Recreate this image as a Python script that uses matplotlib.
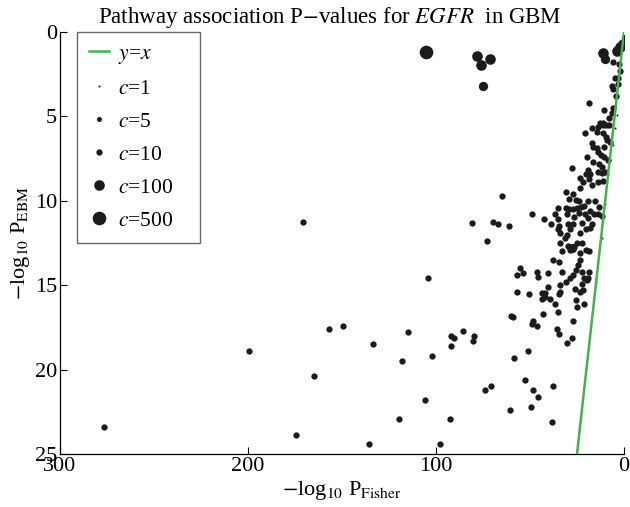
import numpy as np
import matplotlib
matplotlib.use("Agg")
import matplotlib.pyplot as plt
from matplotlib.lines import Line2D

plt.rcParams['font.family'] = ['Liberation Serif', 'DejaVu Serif']
plt.rcParams['mathtext.fontset'] = 'stix'

# Points grouped by gene-set count c: x = -log10 P_Fisher, y = -log10 P_EBM
fisher_c500 = [105.3]
ebm_c500 = [1.17]

fisher_c100 = [78.4, 71.3, 76.0, 11.0, 3.9, 2.1, 0.4]
ebm_c100 = [1.4, 1.57, 1.95, 1.27, 1.1, 0.9, 0.7]

fisher_c50 = [75.2, 9.9, 27.8]
ebm_c50 = [3.2, 1.57, 12.8]

fisher_c10 = [5.7, 2.5, 2.1, 3.0, 4.8, 3.0, 6.5, 6.0, 4.3, 18.5, 10.6, 5.7, 6.5, 7.8, 11.0, 12.8,
              17.2, 13.7, 11.3, 9.6, 7.8, 20.7, 14.5, 11.0, 9.6, 9.2, 17.2, 16.3, 14.5, 13.7, 10.6, 7.4,
              12.4, 10.6, 19.5, 16.6, 13.1, 11.9, 8.3, 27.8, 19.0, 20.2, 18.1, 13.7, 11.9, 10.1,
              23.4, 21.6, 18.5, 17.2, 13.7, 11.3, 23.4, 30.9, 27.3, 29.1, 25.5, 23.8, 19.0, 15.4, 13.1,
              35.0, 36.7, 30.9, 29.1, 27.0, 25.2, 23.0, 21.3, 30.5, 26.5, 23.8, 21.0, 18.3, 16.2, 13.7, 11.9,
              42.5, 48.7, 64.7, 80.7, 69.5, 67.2, 61.0, 72.9, 170.7,
              39.0, 35.0, 34.4, 29.6, 27.0, 22.5, 19.0, 17.2, 35.0, 34.0, 28.7, 30.5, 31.4, 23.4, 20.2, 18.1,
              34.0, 29.6, 26.6, 28.7, 25.2, 22.5, 33.1, 23.4, 20.2, 18.5, 37.6, 34.4, 23.4, 24.3, 25.5,
              33.1, 46.4, 40.3, 55.3, 53.6, 56.7, 27.0, 28.7, 22.5, 21.3, 18.5, 19.0, 45.6, 40.3, 34.0, 30.9,
              34.0, 26.1, 22.5, 21.6, 19.5, 56.7, 50.5, 43.5, 41.8, 43.8, 42.0, 39.4, 34.5, 36.7, 25.5, 25.2,
              21.3, 23.2, 60.3, 58.9, 42.9, 35.3, 48.6, 49.1, 46.4, 27.0, 35.5, 34.4, 30.5, 27.7, 79.8, 80.5,
              51.0, 58.5, 52.9, 73.8, 71.0, 48.6, 37.9, 45.6, 60.6, 49.5, 38.5, 92.6, 97.9, 104.1, 85.5, 92.2,
              90.4, 92.0, 102.0, 106.0,
              276.4, 199.3, 174.5, 164.9, 156.7, 149.6, 135.5, 133.3, 118.3, 119.7, 115.0]
ebm_c10 = [1.77, 1.9, 2.3, 2.7, 2.7, 3.1, 3.2, 3.4, 3.8, 4.2, 4.6, 4.5, 4.8, 5.1, 5.4, 5.4,
           5.7, 5.6, 5.5, 5.5, 5.5, 6.0, 5.9, 6.0, 6.2, 6.4, 6.6, 6.8, 6.9, 7.1, 6.8, 6.5,
           7.3, 7.4, 7.4, 7.7, 7.8, 8.0, 7.6, 8.05, 8.2, 8.4, 8.4, 8.3, 8.35, 8.3,
           8.65, 8.9, 8.7, 9.05, 8.9, 8.85, 9.25, 9.5, 9.6, 9.9, 9.95, 10.0, 10.0, 10.0, 10.35,
           10.4, 10.8, 10.4, 10.5, 10.5, 10.4, 10.35, 10.3, 10.8, 10.95, 10.75, 10.8, 10.6, 10.8, 10.8, 10.9,
           11.1, 10.8, 9.7, 11.3, 11.25, 11.4, 11.5, 12.4, 11.25,
           11.4, 11.1, 11.5, 11.4, 11.4, 11.3, 11.0, 11.4, 11.7, 11.9, 11.7, 12.0, 12.2, 11.9, 11.7, 11.6,
           12.5, 12.7, 12.75, 12.9, 12.5, 12.5, 13.0, 13.1, 12.9, 13.0, 13.5, 13.6, 13.5, 13.8, 14.1,
           14.2, 14.2, 14.3, 14.0, 14.3, 14.4, 14.4, 14.6, 14.2, 14.6, 14.2, 14.6, 14.5, 15.1, 15.0, 14.8,
           15.4, 15.2, 14.9, 15.3, 14.7, 15.4, 15.5, 15.45, 15.45, 15.8, 15.7, 15.8, 15.5, 16.1, 15.9, 16.3,
           16.1, 15.4, 16.8, 16.9, 16.7, 16.6, 17.1, 17.3, 17.4, 17.1, 17.6, 17.9, 18.4, 18.1, 18.0, 18.3,
           18.9, 19.3, 20.6, 21.2, 21.0, 21.2, 21.0, 21.6, 22.4, 22.2, 23.1, 22.9, 24.4, 14.6, 17.7, 18.0,
           18.1, 18.6, 19.2, 21.8,
           23.4, 18.9, 23.9, 20.4, 17.6, 17.4, 24.4, 18.5, 19.5, 22.9, 17.8]

fisher_c5 = [0.2]
ebm_c5 = [0.3]

fisher_c1 = [10.1, 11.5, 8.6, 7.6, 6.1, 4.6, 3.8, 14.9, 19.0]
ebm_c1 = [10.2, 12.2, 8.5, 7.6, 6.7, 5.7, 4.9, 14.8, 14.2]

groups = [(fisher_c10, ebm_c10, 10), (fisher_c5, ebm_c5, 5), (fisher_c1, ebm_c1, 1),
          (fisher_c50, ebm_c50, 50), (fisher_c100, ebm_c100, 100), (fisher_c500, ebm_c500, 500)]

legend_counts = [1, 5, 10, 100, 500]
diag = [0, 25]


def marker_area(c):
    d_px = 2.0 + 4.3 * np.log10(float(c))
    d_pt = d_px * 72.0 / 100.0
    return d_pt ** 2


fig = plt.figure(figsize=(6.3, 5.07), dpi=100)
ax = fig.add_axes([60 / 630, 53 / 507, 564 / 630, 422 / 507])

dot_color = '#1c1a1b'
green = '#3fb44a'

ax.plot(diag, diag, color=green, lw=1.8, zorder=3)
for xs, ys, c in groups:
    ax.scatter(xs, ys, s=marker_area(c), color=dot_color, linewidths=0, zorder=2)

ax.set_xlim(300, 0)
ax.set_ylim(25, 0)
ax.set_xticks([300, 200, 100, 0])
ax.set_yticks([0, 5, 10, 15, 20, 25])
ax.tick_params(direction='in', length=5, width=0.8, labelsize=16, pad=2)
for s in ['top', 'right']:
    ax.spines[s].set_visible(False)
for s in ['left', 'bottom']:
    ax.spines[s].set_linewidth(0.9)

fig.text(330 / 630, 1 - 18 / 507, r'Pathway association P$-$values for $\it{EGFR}$  in GBM',
         fontsize=16.5, ha='center', va='center')
ax.set_xlabel(r'$-$log$_{10}$ P$_{\mathrm{Fisher}}$', fontsize=16, labelpad=2)
ax.set_ylabel(r'$-$log$_{10}$ P$_{\mathrm{EBM}}$', fontsize=16, labelpad=2)

handles = [Line2D([], [], color=green, lw=1.8)]
labels = [r'$y$=$x$']
for c in legend_counts:
    d_pt = np.sqrt(marker_area(c))
    handles.append(Line2D([], [], ls='none', marker='o', markersize=d_pt,
                          markerfacecolor=dot_color, markeredgewidth=0))
    labels.append(r'$c$=%d' % c)
leg = ax.legend(handles, labels, loc='upper left', mode='expand',
                bbox_to_anchor=(0.031, 0.0, 0.217, 1.0),
                borderaxespad=0, frameon=True, fancybox=False, fontsize=15.5,
                handlelength=0.9, handletextpad=0.45, labelspacing=0.6,
                borderpad=0.55)
leg.get_frame().set_edgecolor('#444444')
leg.get_frame().set_linewidth(1.0)

fig.savefig('out.png', dpi=100)
